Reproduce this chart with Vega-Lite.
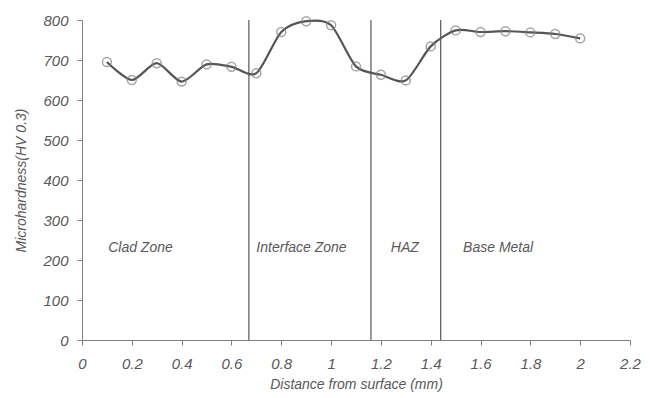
{
  "$schema": "https://vega.github.io/schema/vega-lite/v6.json",
  "width": 548,
  "height": 320,
  "autosize": "none",
  "padding": {"left": 82, "top": 20, "right": 24, "bottom": 58},
  "background": "white",
  "config": {
    "view": {"stroke": null},
    "axis": {"grid": false, "domainColor": "#808080", "tickColor": "#808080", "labelColor": "#595959", "titleColor": "#595959", "labelFont": "Liberation Sans", "titleFont": "Liberation Sans", "labelFontStyle": "italic", "titleFontStyle": "italic", "labelFontSize": 15, "titleFontSize": 14, "titleFontWeight": "normal", "tickSize": 5, "labelOverlap": false}
  },
  "datasets": {
    "hardness": [
      {"distance": 0.1, "hv": 695}, {"distance": 0.2, "hv": 650}, {"distance": 0.3, "hv": 692},
      {"distance": 0.4, "hv": 646}, {"distance": 0.5, "hv": 689}, {"distance": 0.6, "hv": 683},
      {"distance": 0.7, "hv": 667}, {"distance": 0.8, "hv": 770}, {"distance": 0.9, "hv": 797},
      {"distance": 1.0, "hv": 787}, {"distance": 1.1, "hv": 684}, {"distance": 1.2, "hv": 663},
      {"distance": 1.3, "hv": 649}, {"distance": 1.4, "hv": 734}, {"distance": 1.5, "hv": 774},
      {"distance": 1.6, "hv": 770}, {"distance": 1.7, "hv": 772}, {"distance": 1.8, "hv": 769},
      {"distance": 1.9, "hv": 765}, {"distance": 2.0, "hv": 754}
    ],
    "boundaries": [
      {"distance": 0.67, "lo": 0, "hi": 800},
      {"distance": 1.16, "lo": 0, "hi": 800},
      {"distance": 1.44, "lo": 0, "hi": 800}
    ],
    "zones": [
      {"distance": 0.105, "hv": 230, "label": "Clad Zone"},
      {"distance": 0.70, "hv": 230, "label": "Interface Zone"},
      {"distance": 1.24, "hv": 230, "label": "HAZ"},
      {"distance": 1.53, "hv": 230, "label": "Base Metal"}
    ]
  },
  "encoding": {
    "x": {"field": "distance", "type": "quantitative", "scale": {"domain": [0, 2.2], "nice": false},
      "axis": {"values": [0, 0.2, 0.4, 0.6, 0.8, 1, 1.2, 1.4, 1.6, 1.8, 2, 2.2], "tickCount": 20, "format": "~g", "title": "Distance from surface (mm)", "labelPadding": 11, "titlePadding": 6, "labelFlush": false}}
  },
  "layer": [
    {
      "data": {"name": "boundaries"},
      "mark": {"type": "rule", "color": "#555555", "strokeWidth": 1.2},
      "encoding": {
        "y": {"field": "lo", "type": "quantitative", "scale": {"domain": [0, 800], "nice": false},
          "axis": {"values": [0, 100, 200, 300, 400, 500, 600, 700, 800], "tickCount": 20, "title": "Microhardness(HV 0.3)", "labelPadding": 9, "titlePadding": 14, "labelFlush": false}},
        "y2": {"field": "hi"}
      }
    },
    {
      "data": {"name": "hardness"},
      "mark": {"type": "line", "color": "#555555", "strokeWidth": 2.2, "interpolate": "cardinal", "tension": 0.2},
      "encoding": {
        "y": {"field": "hv", "type": "quantitative"}
      }
    },
    {
      "data": {"name": "hardness"},
      "mark": {"type": "point", "shape": "circle", "filled": false, "stroke": "#808080", "strokeWidth": 1.5, "size": 80},
      "encoding": {
        "y": {"field": "hv", "type": "quantitative"}
      }
    },
    {
      "data": {"name": "zones"},
      "mark": {"type": "text", "align": "left", "baseline": "middle", "font": "Liberation Sans", "fontStyle": "italic", "fontSize": 14, "color": "#595959"},
      "encoding": {
        "y": {"field": "hv", "type": "quantitative"},
        "text": {"field": "label"}
      }
    }
  ]
}
